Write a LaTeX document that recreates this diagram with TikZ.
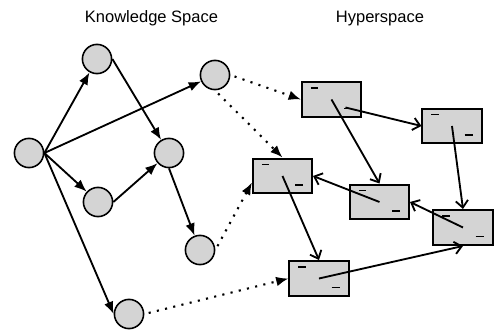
\documentclass[tikz,border=0pt]{standalone}
\usepackage{fontspec}
\setmainfont{Liberation Sans}
\usetikzlibrary{arrows.meta}

\begin{document}
\begin{tikzpicture}[scale=0.2]
  \tikzstyle{every node}+=[inner sep=0pt]
  \tikzstyle{concept}=[circle, draw=black, line width=0.9pt, fill=black!17, minimum size=16.6pt]
  \tikzstyle{page}=[rectangle, draw=black, line width=1.15pt, fill=black!17, minimum width=33.6pt, minimum height=19.9pt]
  \tikzstyle{link}=[black, line width=1.05pt, -{Latex[length=7pt,width=5.5pt]}]
  \tikzstyle{hlink}=[black, line width=1.05pt, -{Straight Barb[length=4pt,width=7pt]}]
  \tikzstyle{map}=[black, line width=1.2pt, dash pattern=on 1.2pt off 3.6pt, shorten <=2.5pt, -{Latex[length=7pt,width=5.5pt]}]
  \tikzstyle{title}=[anchor=base, font=\fontsize{9.4}{11}\selectfont]
  \useasboundingbox (0,0) rectangle (49.4,-33.1);
  \draw (15.15,-2.27) node [title] (ktitle) {Knowledge Space};
  \draw (38.0,-2.27) node [title] (htitle) {Hyperspace};
  % knowledge space
  \draw (2.9,-15.3) node [concept] (k1) {};
  \draw (9.7,-5.9) node [concept] (k2) {};
  \draw (21.5,-7.5) node [concept] (k3) {};
  \draw (16.9,-15.3) node [concept] (k4) {};
  \draw (9.8,-20.2) node [concept] (k5) {};
  \draw (20.0,-25.0) node [concept] (k6) {};
  \draw (12.9,-31.4) node [concept] (k7) {};
  % hyperspace
  \draw (33.15,-9.95) node [page] (h1) {};
  \draw (45.2,-12.6) node [page] (h2) {};
  \draw (28.25,-17.6) node [page] (h3) {};
  \draw (37.95,-20.2) node [page] (h4) {};
  \draw (46.3,-22.75) node [page] (h5) {};
  \draw (31.9,-27.85) node [page] (h6) {};
  \foreach \i in {1,...,6} {
    \draw [line width=0.85pt] ([shift={(1.0,-0.7)}]h\i.north west) -- ++(0.75,0);
    \draw [line width=0.85pt] ([shift={(-1.8,0.95)}]h\i.south east) -- ++(0.8,0);
  }
  \draw [link] (k1.east) -- (k2);
  \draw [link] (k1.east) -- (k3);
  \draw [link] (k1.east) -- (k5);
  \draw [link] (k1.east) -- (k7.west);
  \draw [link] (k2.east) -- (k4);
  \draw [link] (k5.east) -- (k4);
  \draw [link] (k4.south) -- (k6);
  \draw [map] (k3.east) -- (h1.west);
  \draw [map] (k3.south) -- (h3.north);
  \draw [map] (k6.east) -- ([shift={(0,-0.65)}]h3.west);
  \draw [map] (k7.east) -- (h6.west);
  \draw [hlink] ([shift={(1.4,-0.8)}]h1.center) -- (h2.west);
  \draw [hlink] (h1.center) -- (h4.north);
  \draw [hlink] (h2.center) -- (h5.north);
  \draw [hlink] (h4.center) -- (h3.east);
  \draw [hlink] (h5.center) -- (h4.east);
  \draw [hlink] (h3.center) -- (h6.north);
  \draw [hlink] (h6.center) -- (h5.south);
\end{tikzpicture}
\end{document}
